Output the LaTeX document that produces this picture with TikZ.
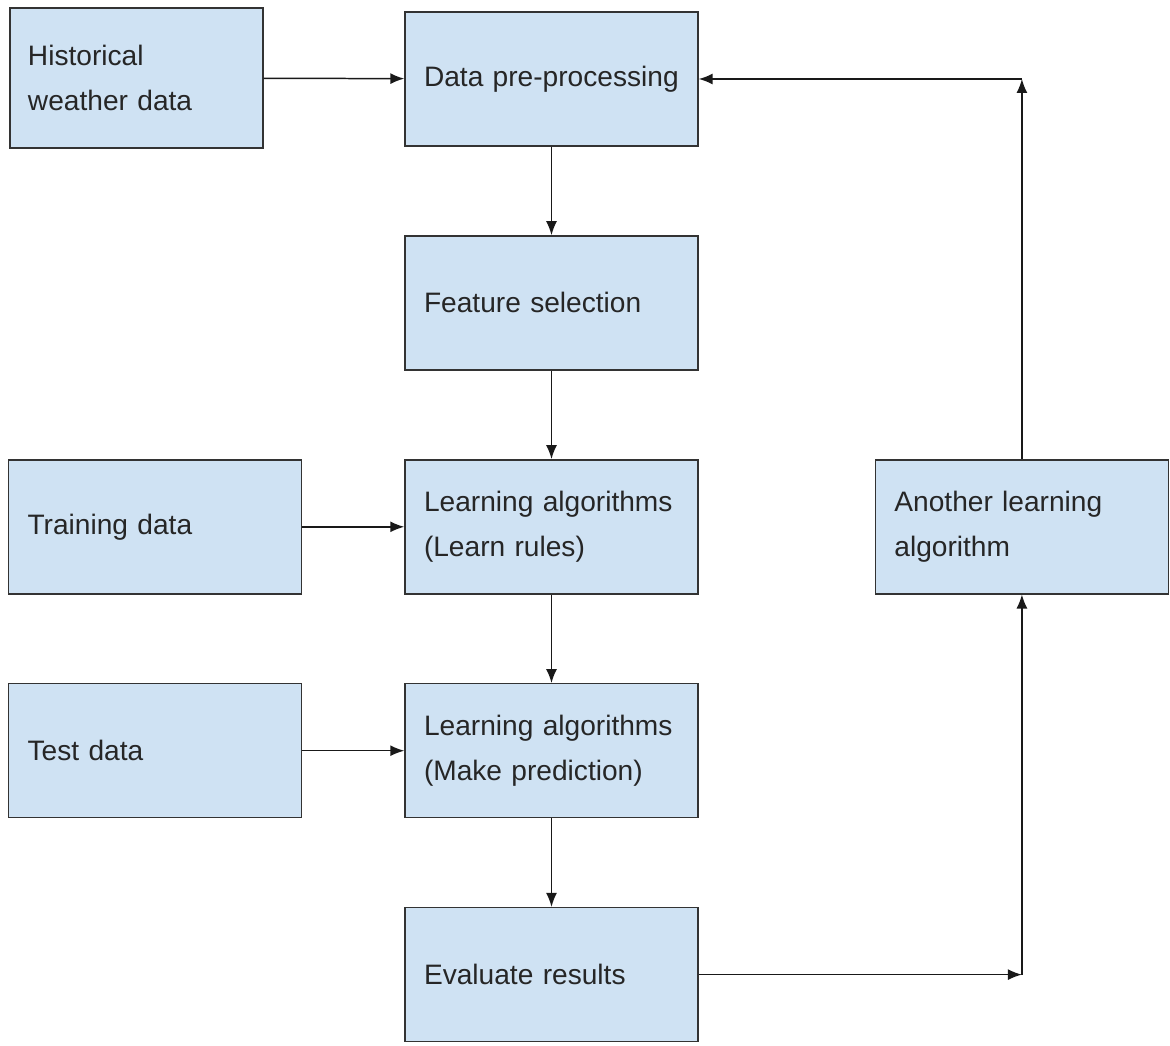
\documentclass[tikz,border=0pt]{standalone}
\usepackage{fontspec}
\setmainfont{Liberation Sans}
\usetikzlibrary{arrows.meta,positioning,calc}
\definecolor{boxfill}{HTML}{CFE2F3}

\begin{document}
\begin{tikzpicture}[
    node distance=1.77cm,
    every node/.style={font=\fontsize{16}{25.5}\selectfont},
    block/.style={rectangle, draw=black!80, line width=0.8pt, fill=boxfill, text width=5.1cm, inner xsep=0.38cm, minimum height=2.68cm, align=left, text=black!85},
    arrow/.style={line width=0.85pt, draw=black!90, -{Latex[length=2.8mm,width=2.2mm]}}
]
    \useasboundingbox (0,0) rectangle (23.4,20.92);

    % Main column
    \node[block] (pre) at (11.03,19.34) {Data pre-processing};
    \node[block, below=of pre] (feat) {Feature selection};
    \node[block, below=of feat] (learn) {Learning algorithms\\(Learn rules)};
    \node[block, below=of learn] (pred) {Learning algorithms\\(Make prediction)};
    \node[block, below=of pred] (eval) {Evaluate results};

    % Inputs
    \node[block, text width=4.34cm, inner xsep=0.36cm, minimum height=2.8cm] (hist) at (2.73,19.36) {Historical\\weather data};
    \node[block, left=2.04cm of learn] (train) {Training data};
    \node[block, left=2.04cm of pred] (test) {Test data};

    % Feedback loop
    \node[block, right=3.52cm of learn] (other) {Another learning\\algorithm};
    \coordinate (evalturn) at (other.south |- eval.east);
    \coordinate (preturn) at (other.north |- pre.east);

    % Flow
    \draw[arrow] (hist) -- (pre);
    \draw[arrow] (pre) -- (feat);
    \draw[arrow] (feat) -- (learn);
    \draw[arrow] (learn) -- (pred);
    \draw[arrow] (pred) -- (eval);
    \draw[arrow] (train) -- (learn);
    \draw[arrow] (test) -- (pred);

    \draw[arrow] (eval) -- (evalturn);
    \draw[arrow] (evalturn) -- (other);
    \draw[arrow] (other) -- (preturn);
    \draw[arrow] (preturn) -- (pre);

\end{tikzpicture}
\end{document}
